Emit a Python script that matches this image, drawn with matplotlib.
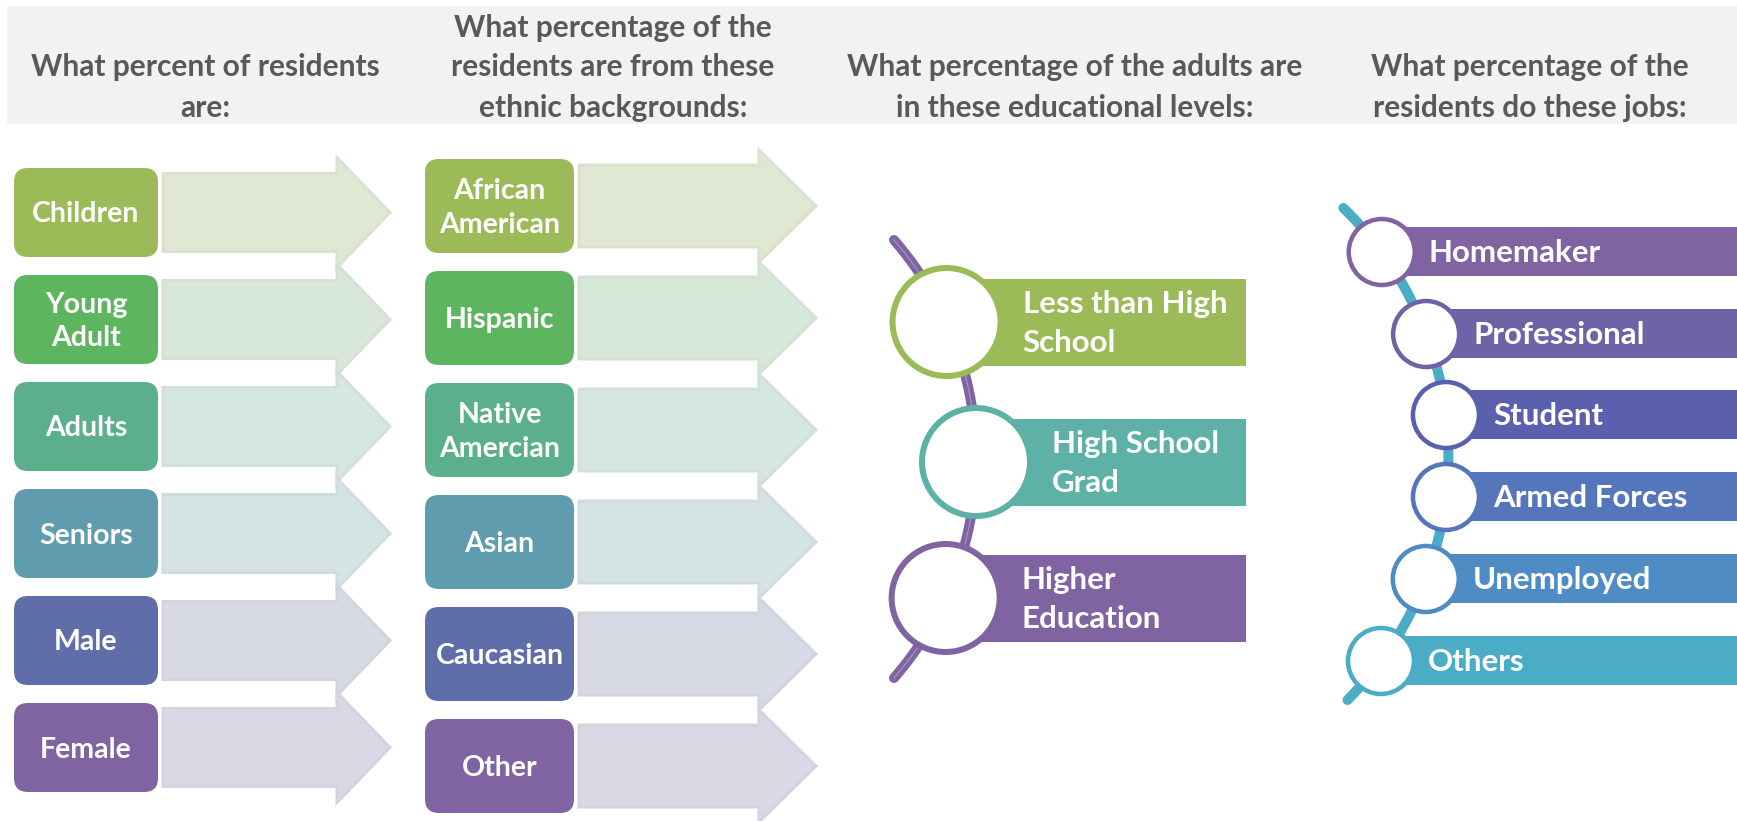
import numpy as np
import matplotlib.pyplot as plt
from matplotlib.patches import FancyBboxPatch, Polygon, Circle, Rectangle
from matplotlib.colors import to_rgb

plt.rcParams['font.family'] = ['Lato', 'DejaVu Sans']

W, H = 1737, 821

# ---- content ----
headers = [
    ["What percent of residents", "are:"],
    ["What percentage of the", "residents are from these", "ethnic backgrounds:"],
    ["What percentage of the adults are", "in these educational levels:"],
    ["What percentage of the", "residents do these jobs:"],
]
age_groups = ["Children", "Young\nAdult", "Adults", "Seniors", "Male", "Female"]
ethnic_groups = ["African\nAmerican", "Hispanic", "Native\nAmercian", "Asian", "Caucasian", "Other"]
education_levels = ["Less than High\nSchool", "High School\nGrad", "Higher\nEducation"]
jobs = ["Homemaker", "Professional", "Student", "Armed Forces", "Unemployed", "Others"]

# ---- styles ----
box_colors = ['#9BBB59', '#5EB55F', '#5BAF8D', '#5F9CAD', '#5F6EA8', '#8064A2']
arrow_fill = ['#E0E8D4', '#D7E8D8', '#D6E7E0', '#D5E3E5', '#D7DAE5', '#DBD7E5']
edu_colors = ['#9BBB59', '#5EB1A6', '#8064A2']
job_colors = ['#8064A2', '#6F63A8', '#5A5FAE', '#5676BB', '#4F8CC4', '#4BACC6']
header_color = '#595959'


def px(v):
    # pixel width -> points at dpi 100
    return v * 0.72


def draw_lines(ax, x, yc, label, size, ha='center', pitch=34, off=10):
    lines = label.split('\n')
    n = len(lines)
    for i, s in enumerate(lines):
        y = yc + off + (i - (n - 1) / 2) * pitch
        ax.text(x, y, s, ha=ha, va='baseline', fontsize=size,
                fontweight='bold', color='white')


def arrow_column(ax, labels, x_box, w_box, top0, h_box, step, x0, xb, xt, bh, hh):
    for i, lab in enumerate(labels):
        top = top0 + i * step
        yc = top + h_box / 2
        edge = tuple(c * 0.975 for c in to_rgb(arrow_fill[i]))
        pts = [(x0, yc - bh), (xb, yc - bh), (xb, yc - hh), (xt, yc),
               (xb, yc + hh), (xb, yc + bh), (x0, yc + bh)]
        ax.add_patch(Polygon(pts, closed=True, fc=arrow_fill[i], ec=edge,
                             lw=px(3), zorder=1))
        ax.add_patch(FancyBboxPatch((x_box, top), w_box, h_box,
                                    boxstyle="round,pad=0,rounding_size=15",
                                    fc=box_colors[i], ec='white', lw=px(2), zorder=2))
        draw_lines(ax, x_box + w_box / 2, yc, lab, 20.5, pitch=34, off=10)


def arc_x(y, cx, cy, r):
    return cx + np.sqrt(r ** 2 - (y - cy) ** 2)


fig = plt.figure(figsize=(W / 100, H / 100), dpi=100)
ax = fig.add_axes([0, 0, 1, 1])
ax.set_xlim(0, W)
ax.set_ylim(H, 0)
ax.axis('off')

# header band
ax.add_patch(Rectangle((7, 6), W - 7, 118, fc='#F2F2F2', ec='none', zorder=0))
header_x = [205, 613, 1075, 1530]
for hx, lines in zip(header_x, headers):
    base = [76, 117] if len(lines) == 2 else [37, 76, 117]
    for s, by in zip(lines, base):
        ax.text(hx, by, s, ha='center', va='baseline', fontsize=21.5,
                fontweight='bold', color=header_color)

# column 1 and 2: boxes with arrows
arrow_column(ax, age_groups, 13, 146, 167, 91, 107, 163, 337, 390, 39, 55)
arrow_column(ax, ethnic_groups, 424, 151, 158, 96, 112, 579, 759, 816, 41, 56)

# column 3: education timeline
cx3, cy3, r3 = 642.6, 459, 333.4
yy = np.linspace(240, 678, 200)
ax.plot(arc_x(yy, cx3, cy3, r3), yy, color='#8064A2', lw=px(10),
        solid_capstyle='round', zorder=1)
ax.plot(arc_x(yy, cx3, cy3, r3), yy, color='white', lw=px(1.2), alpha=0.3, zorder=1)
edu_y = [322, 462, 598]
for i, lab in enumerate(education_levels):
    y = edu_y[i]
    x = arc_x(y, cx3, cy3, r3)
    ax.add_patch(Rectangle((x, y + 1 - 43.5), 1246 - x, 87, fc=edu_colors[i],
                           ec='none', zorder=2))
    ax.add_patch(Circle((x, y), 54, fc='white', ec=edu_colors[i], lw=px(6), zorder=3))
    draw_lines(ax, x + 76, y + 1, lab, 22.5, ha='left', pitch=39, off=10)

# column 4: jobs timeline
cx4, cy4, r4 = 1103, 456, 345.4
yy = np.linspace(208, 700, 200)
ax.plot(arc_x(yy, cx4, cy4, r4), yy, color='#4BACC6', lw=px(10),
        solid_capstyle='round', zorder=1)
job_y = [252, 334, 415, 497, 579, 661]
for i, lab in enumerate(jobs):
    y = job_y[i]
    x = arc_x(y, cx4, cy4, r4)
    ax.add_patch(Rectangle((x, y - 24.5), W - x, 49, fc=job_colors[i],
                           ec='none', zorder=2))
    ax.add_patch(Circle((x, y), 33, fc='white', ec=job_colors[i], lw=px(4.5), zorder=3))
    draw_lines(ax, x + 47, y, lab, 22.5, ha='left', off=10)

fig.savefig('out.png', dpi=100)
